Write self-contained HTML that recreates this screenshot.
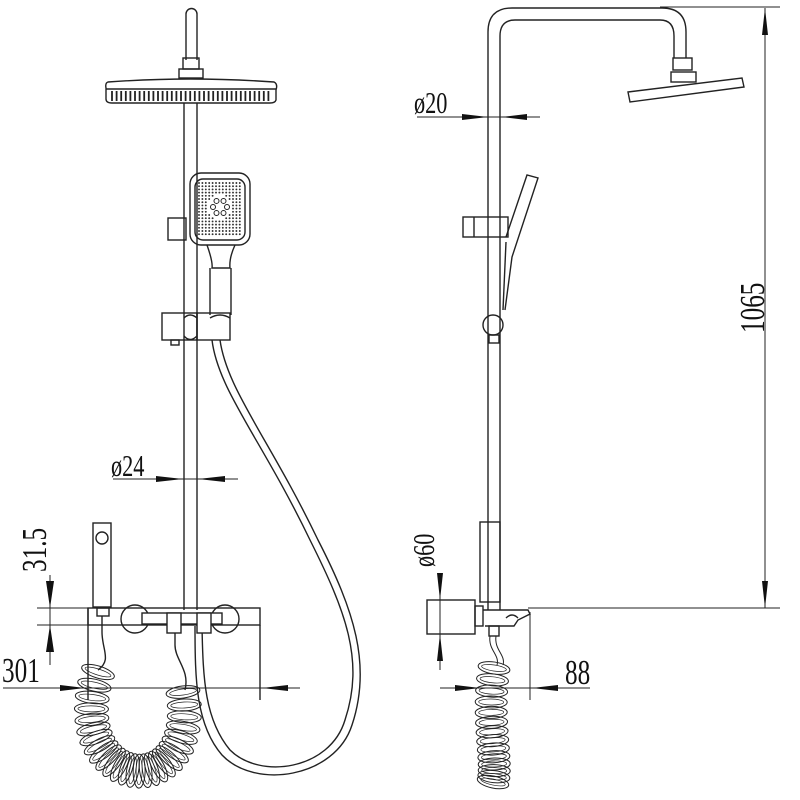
<!DOCTYPE html>
<html><head><meta charset="utf-8"><style>
html,body{margin:0;padding:0;background:#fff;width:800px;height:800px;overflow:hidden}
svg{display:block}
text{font-family:"Liberation Serif",serif;fill:#111}
</style></head><body>
<svg id="s" width="800" height="800" viewBox="0 0 800 800" xmlns="http://www.w3.org/2000/svg">
<g fill="none" stroke="#222" stroke-width="1.4">
<!-- ===== LEFT VIEW ===== -->
<path d="M186 60 V14 a5.5 5.5 0 0 1 11 0 V60"/>
<rect x="183" y="58" width="16" height="11"/>
<rect x="179" y="69" width="24" height="9"/>
<path d="M108 82 Q190 76 274 82 Q278 84 276 90 L276 100 Q275 103 270 103 L112 103 Q106 103 106 99 L106 88 Q105 83 108 82 Z"/>
<line x1="106" y1="89" x2="276" y2="89"/>
<g id="ribs" stroke-width="1.8"></g>
<line x1="184" y1="103" x2="184" y2="610"/>
<line x1="197" y1="103" x2="197" y2="610"/>
<rect x="168" y="218" width="18" height="22"/>
<rect x="190" y="173" width="60" height="72" rx="11"/>
<rect x="195" y="179" width="50" height="61" rx="8"/>
<path d="M207 245 Q213 262 212 268 L230 268 Q229 258 235 245"/>
<path d="M210 268 V315 M231 268 V315"/>
<g id="dots" fill="#333" stroke="none"></g>
<g id="ring" fill="#fff" stroke-width="1"></g>
<rect x="162" y="313" width="35" height="27"/>
<rect x="197" y="313" width="33" height="27"/>
<path d="M184 318 Q190 312 197 318 M184 336 Q190 343 197 336 M210 318 Q220 312 230 318"/>
<rect x="171" y="340" width="8" height="5"/>
<path d="M212 340 C 218 390 262 440 310 540 C 345 610 365 660 345 720 C 330 770 260 780 230 750 C 205 720 203 680 202 626"/>
<path d="M220 340 C 227 390 270 440 318 540 C 354 610 372 665 352 725 C 335 778 255 790 222 755 C 196 725 195 680 195 626"/>
<rect x="88" y="608" width="172" height="17"/>
<path d="M88 608 V700"/>
<circle cx="135" cy="619" r="14"/>
<circle cx="225" cy="619" r="14"/>
<rect x="142" y="613" width="80" height="11" fill="#fff"/>
<rect x="167" y="613" width="14" height="20" fill="#fff"/>
<rect x="197" y="613" width="14" height="20" fill="#fff"/>
<line x1="260" y1="625" x2="260" y2="700"/>
<rect x="93" y="523" width="18" height="84"/>
<circle cx="102" cy="538" r="6"/>
<rect x="97" y="608" width="12" height="8"/>
<path d="M102 616 V632 C102 650 112 660 98 670"/>
<path d="M175 633 V645 C175 660 190 670 185 690"/>
<g id="coil1" stroke-width="1"></g>
<path d="M37 608 H88 M37 625 H88" stroke-width="1"/>
<path d="M50 575 V625 M50 608 V665" stroke-width="1"/>
<path d="M3 688 H300" stroke-width="1"/>
<path d="M113 479 H238" stroke-width="1"/>

<!-- ===== RIGHT VIEW ===== -->
<path d="M488 610 V32 Q488 8 512 8 H662 Q686 8 686 32 V58"/>
<path d="M500 610 V36 Q500 20 515 20 H660 Q674 20 674 36 V58"/>
<rect x="673" y="58" width="19" height="12"/>
<rect x="671" y="72" width="25" height="10"/>
<path d="M628 92 L742 78 L744 87 L630 102 Z"/>
<rect x="463" y="217" width="45" height="20"/>
<line x1="474" y1="217" x2="474" y2="237"/>
<path d="M506 237 L527 175 L538 178 L512 257 L505 310"/>
<path d="M506 242 L503 310"/>
<circle cx="493" cy="325" r="10"/>
<rect x="489" y="335" width="10" height="8"/>
<rect x="480" y="522" width="20" height="80"/>
<rect x="427" y="600" width="48" height="34"/>
<rect x="475" y="606" width="8" height="20"/>
<path d="M483 610 H528 L530 614 L518 620 L514 626 H485"/>
<path d="M506 618 Q512 612 518 618"/>
<rect x="489" y="626" width="10" height="10"/>
<path d="M490 636 C488 650 500 655 497 665 M496 636 C494 650 506 655 503 665" stroke-width="1"/>
<g id="coil2" stroke-width="1"></g>
<path d="M528 608 H780 M660 7 H780" stroke-width="1"/>
<path d="M765 8 V608" stroke-width="1"/>
<path d="M417 117 H540" stroke-width="1"/>
<path d="M427 600 H440 M427 634 H440 M440 575 V620 M440 620 V670" stroke-width="1"/>
<path d="M440 688 H590 M530 612 V700" stroke-width="1"/>
</g>
<g fill="#111">
<polygon points="156,476 183,479 156,482"/>
<polygon points="225,476 198,479 225,482"/>
<polygon points="46,581 54,581 50,608"/>
<polygon points="46,652 54,652 50,625"/>
<polygon points="60,685 85,688 60,691"/>
<polygon points="288,685 262,688 288,691"/>
<polygon points="462,114 488,117 462,120"/>
<polygon points="527,114 501,117 527,120"/>
<polygon points="762,35 768,35 765,8"/>
<polygon points="762,581 768,581 765,608"/>
<polygon points="437,573 443,573 440,600"/>
<polygon points="437,661 443,661 440,634"/>
<polygon points="455,685 480,688 455,691"/>
<polygon points="558,685 532,688 558,691"/>
</g>
<text transform="translate(111,476) scale(0.72,1)" font-size="31">ø24</text>
<text transform="translate(2,682) scale(0.72,1)" font-size="35">301</text>
<text transform="translate(46,572) rotate(-90) scale(0.72,1)" font-size="35">31.5</text>
<text transform="translate(414,113) scale(0.72,1)" font-size="31">ø20</text>
<text transform="translate(434,567) rotate(-90) scale(0.72,1)" font-size="31">ø60</text>
<text transform="translate(565,684) scale(0.72,1)" font-size="35">88</text>
<text transform="translate(764,333) rotate(-90) scale(0.72,1)" font-size="35">1065</text>
</svg>
<script>
var NS="http://www.w3.org/2000/svg";
function el(p,t,a){var e=document.createElementNS(NS,t);for(var k in a)e.setAttribute(k,a[k]);p.appendChild(e);return e;}
var r=document.getElementById("ribs");
for(var x=112;x<272;x+=4.6){el(r,"line",{x1:x,y1:91,x2:x,y2:101});}
var d=document.getElementById("dots");
for(var y=183;y<236;y+=3.2){for(var x=199;x<242;x+=3.4){var dx=x-220,dy=y-207;var rr=Math.sqrt(dx*dx+dy*dy);if(rr<12)continue;el(d,"circle",{cx:x,cy:y,r:0.95});}}
var rg=document.getElementById("ring");
for(var i=0;i<6;i++){var a=i*Math.PI/3;el(rg,"circle",{cx:220+7*Math.cos(a),cy:207+7*Math.sin(a),r:2.5});}
function coil(g,pts,n,rx,ry){
 function bz(t){var a=pts;var u=1-t;
  return [u*u*u*a[0][0]+3*u*u*t*a[1][0]+3*u*t*t*a[2][0]+t*t*t*a[3][0],
          u*u*u*a[0][1]+3*u*u*t*a[1][1]+3*u*t*t*a[2][1]+t*t*t*a[3][1]];}
 for(var i=0;i<=n;i++){var t=i/n;var p=bz(t),q=bz(Math.min(1,t+0.01)),o=bz(Math.max(0,t-0.01));
  var ang=Math.atan2(q[1]-o[1],q[0]-o[0])*180/Math.PI+90;
  el(g,"ellipse",{cx:p[0],cy:p[1],rx:rx,ry:ry,transform:"rotate("+ang+" "+p[0]+" "+p[1]+")"});
  el(g,"ellipse",{cx:p[0],cy:p[1],rx:rx-3.5,ry:Math.max(1,ry-3),transform:"rotate("+ang+" "+p[0]+" "+p[1]+")","stroke-width":0.7});}
}
coil(document.getElementById("coil1"),[[98,672],[60,790],[200,810],[183,692]],26,17,6);
coil(document.getElementById("coil2"),[[494,668],[486,720],[498,760],[493,782]],13,16,6);
</script>
</body></html>
